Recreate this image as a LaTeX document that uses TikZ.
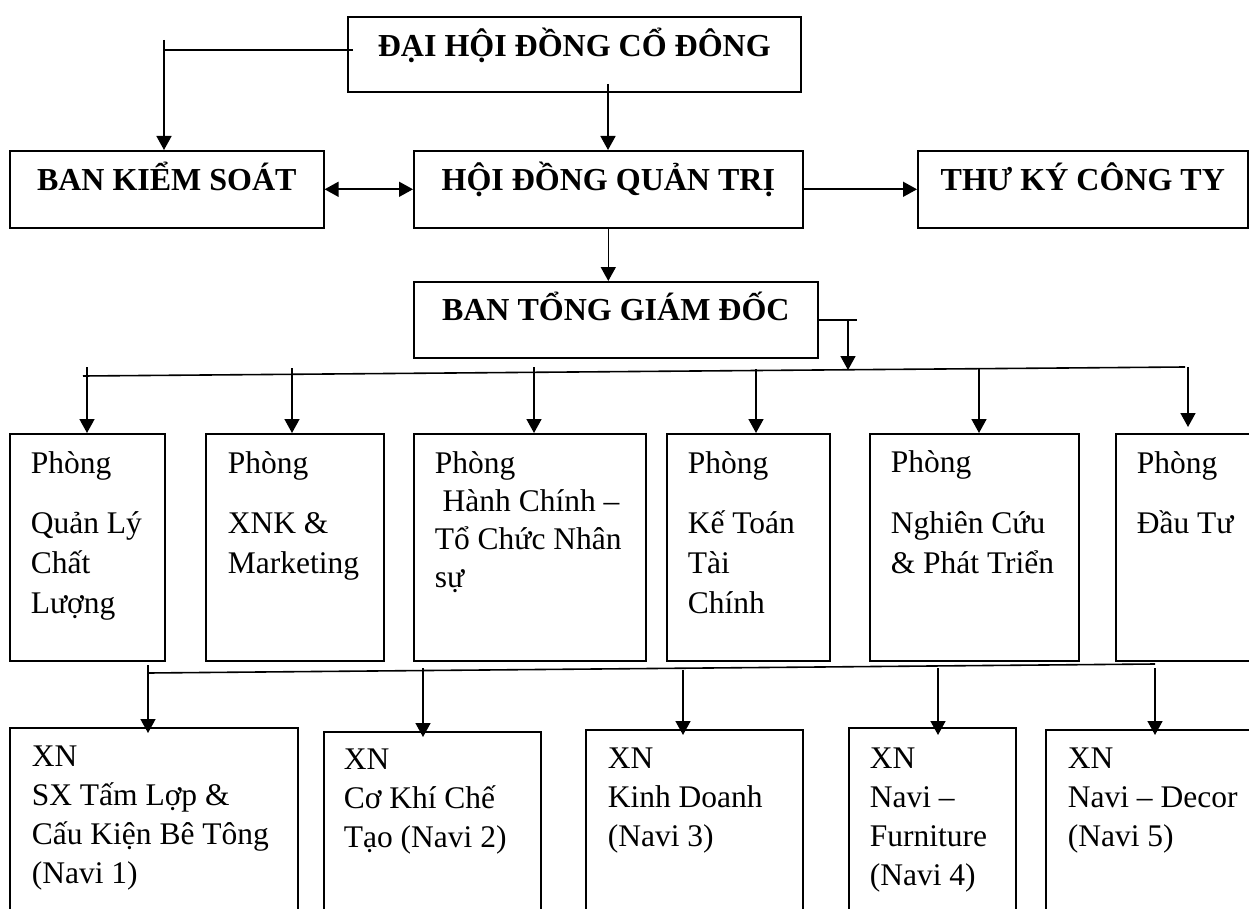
\documentclass[tikz,border=0pt]{standalone}
\usepackage{fontspec}
\setmainfont{Liberation Serif}
\usetikzlibrary{arrows.meta,calc}
\newcommand\stk[2]{\vtop{\baselineskip=#1\lineskiplimit=-\maxdimen\lineskip=0pt #2}}
\begin{document}
\begin{tikzpicture}[x=1pt,y=-1pt,
  font=\fontsize{31.5}{38}\selectfont,
  line width=1.6pt,
  box/.style={draw,line width=1.6pt,inner sep=0pt,anchor=north west},
  hbox/.style={box,font=\bfseries\fontsize{32}{38}\selectfont,text height=40pt},
  txt/.style={inner sep=0pt,anchor=base west},
  arr/.style={-{Triangle[length=14pt,width=15pt]}},
  darr/.style={{Triangle[length=14pt,width=15pt]}-{Triangle[length=14pt,width=15pt]}}]
\useasboundingbox (0,0) rectangle (1249,909);

% header boxes
\node[hbox,minimum width=453pt,text depth=35pt] (dh) at (347,16) {ĐẠI HỘI ĐỒNG CỔ ĐÔNG};
\node[hbox,minimum width=314pt,text depth=37pt] (bks) at (9,150) {BAN KIỂM SOÁT};
\node[hbox,minimum width=389pt,text depth=37pt] (hdqt) at (413,150) {HỘI ĐỒNG QUẢN TRỊ};
\node[hbox,minimum width=330pt,text depth=37pt] (tk) at (917,150) {THƯ KÝ CÔNG TY};
\node[hbox,minimum width=404pt,text height=39pt,text depth=37pt] (btgd) at (413,281) {BAN TỔNG GIÁM ĐỐC};

% department boxes
\node[box,minimum width=155pt,minimum height=227pt] (p1) at (9,433) {};
\node[box,minimum width=178pt,minimum height=227pt] (p2) at (205,433) {};
\node[box,minimum width=232pt,minimum height=227pt] (p3) at (413,433) {};
\node[box,minimum width=163pt,minimum height=227pt] (p4) at (666,433) {};
\node[box,minimum width=209pt,minimum height=227pt] (p5) at (869,433) {};
\node[box,minimum width=150pt,minimum height=227pt] (p6) at (1115,433) {};

\node[txt] (p1t) at (30,473) {\stk{40pt}{\hbox{Phòng}\vskip20pt\hbox{Quản Lý}\hbox{Chất}\hbox{Lượng}}};
\node[txt] (p2t) at (227,473) {\stk{40pt}{\hbox{Phòng}\vskip20pt\hbox{XNK \&}\hbox{Marketing}}};
\node[txt] (p3t) at (434,473) {\stk{38pt}{\hbox{Phòng}\hbox{\ Hành Chính –}\hbox{Tổ Chức Nhân}\hbox{sự}}};
\node[txt] (p4t) at (687,473) {\stk{40pt}{\hbox{Phòng}\vskip20pt\hbox{Kế Toán}\hbox{Tài}\hbox{Chính}}};
\node[txt] (p5t) at (890,472) {\stk{40pt}{\hbox{Phòng}\vskip21pt\hbox{Nghiên Cứu}\hbox{\& Phát Triển}}};
\node[txt] (p6t) at (1136,473) {\stk{40pt}{\hbox{Phòng}\vskip20pt\hbox{Đầu Tư}}};

% enterprise boxes
\node[box,minimum width=288pt,minimum height=200pt] (x1) at (9,727) {};
\node[box,minimum width=217pt,minimum height=200pt] (x2) at (323,731) {};
\node[box,minimum width=217pt,minimum height=200pt] (x3) at (585,729) {};
\node[box,minimum width=167pt,minimum height=200pt] (x4) at (848,727) {};
\node[box,minimum width=220pt,minimum height=200pt] (x5) at (1045,729) {};

\node[txt] (x1t) at (31,766) {\stk{39pt}{\hbox{XN}\hbox{SX Tấm Lợp \&}\hbox{Cấu Kiện Bê Tông}\hbox{(Navi 1)}}};
\node[txt] (x2t) at (343,769) {\stk{39pt}{\hbox{XN}\hbox{Cơ Khí Chế}\hbox{Tạo (Navi 2)}}};
\node[txt] (x3t) at (607,768) {\stk{39pt}{\hbox{XN}\hbox{Kinh Doanh}\hbox{(Navi 3)}}};
\node[txt] (x4t) at (869,768) {\stk{39pt}{\hbox{XN}\hbox{Navi –}\hbox{Furniture}\hbox{(Navi 4)}}};
\node[txt] (x5t) at (1067,768) {\stk{39pt}{\hbox{XN}\hbox{Navi – Decor}\hbox{(Navi 5)}}};

% top connectors
\coordinate (a1) at (164,40);
\coordinate (a2) at (353,50);
\draw (a2) -- (a2 -| a1);
\draw[arr] (a1) -- (a1 |- bks.north);
\coordinate (a3) at (608,84);
\draw[arr] (a3) -- (a3 |- hdqt.north);
\draw[darr] (bks.east) -- (hdqt.west);
\draw[arr] (hdqt.east) -- (tk.west);
\draw[arr] (hdqt.south) -- (hdqt.south |- btgd.north);

% from BTGĐ to bus
\coordinate (b1) at (857,320);
\coordinate (b2) at (848,320);
\coordinate (b3) at (848,370);
\draw (btgd.east |- b1) -- (b1);
\draw[arr] (b2) -- (b3);

% upper bus
\coordinate (busL) at (83,376);
\coordinate (busR) at (1185,367);
\draw (busL) -- (busR);
\coordinate (s1) at (87,367);
\coordinate (s2) at (292,368);
\coordinate (s3) at (534,367);
\coordinate (s4) at (756,369);
\coordinate (s5) at (979,368);
\coordinate (s6) at (1188,367);
\draw[arr] (s1) -- (s1 |- p1.north);
\draw[arr] (s2) -- (s2 |- p2.north);
\draw[arr] (s3) -- (s3 |- p3.north);
\draw[arr] (s4) -- (s4 |- p4.north);
\draw[arr] (s5) -- (s5 |- p5.north);
\draw[arr] (s6) -- ($(s6 |- p6.north)+(0,-6)$);

% lower bus
\coordinate (lbL) at (148,673);
\coordinate (lbR) at (1155,664);
\draw (lbL) -- (lbR);
\coordinate (t1) at (148,665);
\coordinate (t2) at (423,668);
\coordinate (t3) at (683,670);
\coordinate (t4) at (938,668);
\coordinate (t5) at (1155,668);
\draw[arr] (t1) -- ($(t1 |- x1.north)+(0,6)$);
\draw[arr] (t2) -- ($(t2 |- x2.north)+(0,6)$);
\draw[arr] (t3) -- ($(t3 |- x3.north)+(0,6)$);
\draw[arr] (t4) -- ($(t4 |- x4.north)+(0,8)$);
\draw[arr] (t5) -- ($(t5 |- x5.north)+(0,6)$);
\end{tikzpicture}
\end{document}
